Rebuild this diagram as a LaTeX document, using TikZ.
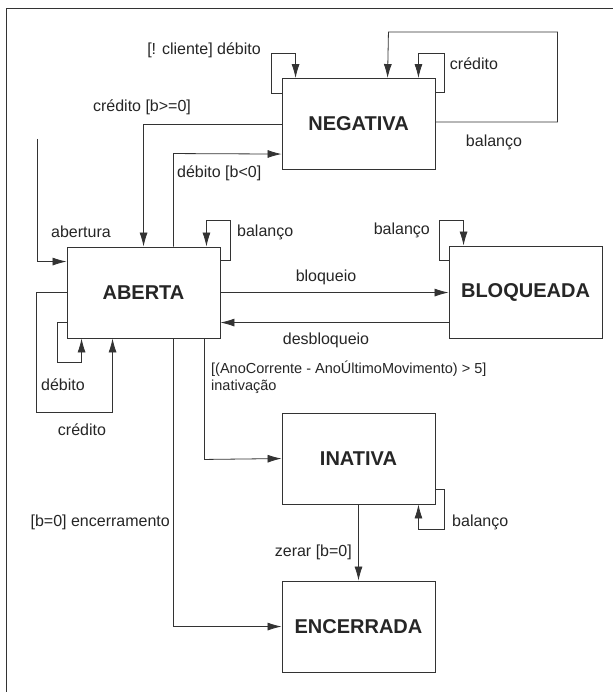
\documentclass[tikz,border=0pt]{standalone}
\usepackage{fontspec}
\setmainfont{Liberation Sans}
\usetikzlibrary{arrows.meta,calc}
\begin{document}
\begin{tikzpicture}[x=1pt,y=-1pt,
  state/.style={draw=black!80, line width=0.9pt, minimum width=153pt, minimum height=91pt, inner sep=0pt,
    font=\fontsize{20}{24}\selectfont\bfseries, text=black!85},
  tr/.style={draw=black!80, line width=0.8pt, -{Latex[length=14pt,width=8pt]}},
  lbl/.style={font=\fontsize{16}{19}\selectfont, inner sep=0pt, text=black!85},
  frame/.style={draw=black!80, line width=1pt}]
\useasboundingbox (0,0) rectangle (613,692);
\fill[white] (0,0) rectangle (613,692);
\draw[frame] (6,692) -- (6,9) -- (613,9);

% states
\node[state] (neg) at (358.5,124) {NEGATIVA};
\node[state] (ab)  at (143.5,292.5) {ABERTA};
\node[state, minimum height=92pt] (bl) at (525.5,292) {BLOQUEADA};
\node[state] (in)  at (358.5,458.5) {INATIVA};
\node[state] (enc) at (358.5,626.5) {ENCERRADA};
\coordinate (ini) at (37,139);

% NEGATIVA transitions
\draw[tr] ($(neg.north west)+(0,15)$) -- ++(-10,0) -- ++(0,-40) -- ++(24,0) -- ($(neg.north west)+(14,0)$);
\draw[tr] ($(neg.north east)+(0,14)$) -- ++(9,0) -- ++(0,-39) -- ++(-26,0) -- ($(neg.north east)+(-17,0)$);
\draw[tr] ($(neg.north east)+(0,44)$) -- ++(122,0) -- ++(0,-90) -- ++(-169,0) -- ($(neg.north west)+(106,0)$);
\draw[tr] ($(neg.north west)+(0,46)$) -- ++(-138,0) -- ($(ab.north west)+(77,0)$);
\draw[tr] ($(ab.north west)+(107,0)$) -- ++(0,-93) -- ($(neg.north west)+(0,76)$);

% ABERTA transitions
\draw[tr] (ini) |- ($(ab.north west)+(0,15)$);
\draw[tr] ($(ab.north east)+(0,14)$) -- ++(10,0) -- ++(0,-40) -- ++(-24,0) -- ($(ab.north east)+(-14,0)$);
\draw[tr] ($(ab.north east)+(0,46)$) -- ($(bl.north west)+(0,47)$);
\draw[tr] ($(bl.north west)+(0,77)$) -- ($(ab.north east)+(0,76)$);
\draw[tr] ($(bl.north west)+(0,15)$) -- ++(-9,0) -- ++(0,-40) -- ++(24,0) -- ($(bl.north west)+(15,0)$);
\draw[tr] ($(ab.north west)+(0,46)$) -- ++(-30,0) -- ++(0,120) -- ++(76,0) -- ($(ab.south west)+(46,0)$);
\draw[tr] ($(ab.north west)+(0,76)$) -- ++(-9,0) -- ++(0,40) -- ++(24,0) -- ($(ab.south west)+(15,0)$);
\draw[tr] ($(ab.south west)+(138,0)$) -- ++(0,121) -- ($(in.north west)+(0,46)$);
\draw[tr] ($(ab.south west)+(107,0)$) |- ($(enc.north west)+(0,46)$);

% INATIVA transitions
\draw[tr] (in.south) -- (enc.north);
\draw[tr] ($(in.north east)+(0,77)$) -- ++(9,0) -- ++(0,40) -- ++(-26,0) -- ($(in.south east)+(-17,0)$);

% labels
\node[lbl, anchor=east] (l1) at (261,50) {[! cliente] débito};
\node[lbl] (l2) at (474,64) {crédito};
\node[lbl] (l3) at (494,142) {balanço};
\node[lbl] (l4) at (142,107) {crédito [b>=0]};
\node[lbl, anchor=west] (l5) at (177,173) {débito [b<0]};
\node[lbl] (l6) at (81,232) {abertura};
\node[lbl, anchor=west] (l7) at (237,232) {balanço};
\node[lbl] (l8) at (326,277) {bloqueio};
\node[lbl] (l9) at (326,340) {desbloqueio};
\node[lbl, anchor=east] (l10) at (430,230) {balanço};
\node[lbl] (l11) at (63,385) {débito};
\node[lbl] (l12) at (82,430) {crédito};
\node[lbl, anchor=west, align=left, font=\fontsize{14.5}{16.5}\selectfont] (l13) at (211,377) {[(AnoCorrente - AnoÚltimoMovimento) > 5]\\inativação};
\node[lbl, anchor=east] (l14) at (170,522) {[b=0] encerramento};
\node[lbl, anchor=east] (l15) at (352,552) {zerar [b=0]};
\node[lbl, anchor=west] (l16) at (452,522) {balanço};
\end{tikzpicture}
\end{document}
